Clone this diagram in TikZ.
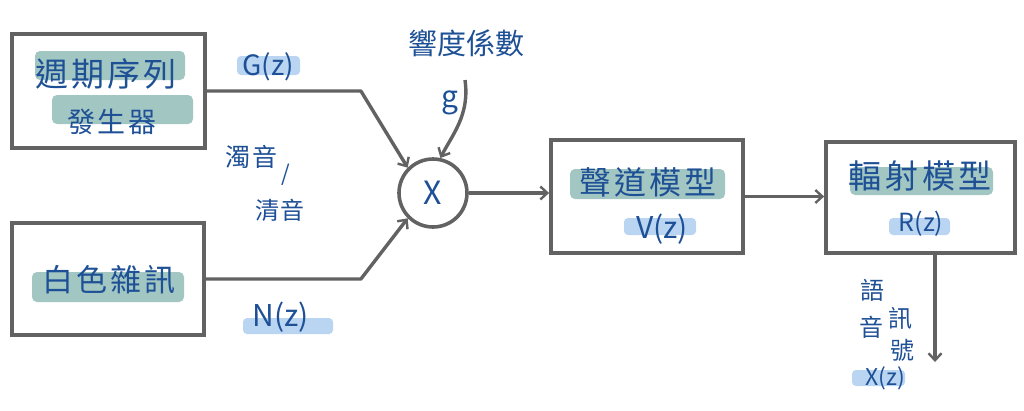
\documentclass[tikz,border=0pt]{standalone}
\usepackage{fontspec}
\setmainfont{Noto Sans CJK TC}
\usetikzlibrary{arrows.meta}
\definecolor{ink}{HTML}{1E5096}
\definecolor{hlteal}{HTML}{A2C6C2}
\definecolor{hlblue}{HTML}{B9D5F2}
\definecolor{pencil}{HTML}{626262}
\newcommand\fsz[1]{\fontsize{#1}{#1}\selectfont}
\begin{document}
\begin{tikzpicture}[x=1pt,y=-1pt,
  box/.style={draw=pencil,line width=3.8pt,fill=white,inner sep=0pt,rectangle},
  hlt/.style={fill=hlteal,rounded corners=5pt},
  hlb/.style={fill=hlblue,rounded corners=4pt},
  lbl/.style={text=ink,inner sep=0pt},
  conn/.style={draw=pencil,line width=3.4pt,line join=round,-{Straight Barb[length=7pt,width=13pt,line width=2.4pt]}}]
\useasboundingbox[fill=white] (0,0) rectangle (1024,410);
% boxes
\node[box,minimum width=193,minimum height=114] (gen) at (108.5,91) {};
\node[box,minimum width=192,minimum height=112] (noise) at (108,279) {};
\node[box,minimum width=192,minimum height=113] (tract) at (647,196.5) {};
\node[box,minimum width=189,minimum height=111] (rad) at (920.5,197.5) {};
\node[draw=pencil,line width=3.6pt,fill=white,circle,minimum size=68,inner sep=0pt] (mult) at (433,193) {};
% highlights
\fill[hlt] (35,51) rectangle (185,80);
\fill[hlt] (52,95) rectangle (193,124);
\fill[hlt] (32,272) rectangle (184,302);
\fill[hlt] (570,169) rectangle (725,199);
\fill[hlt] (850,167) rectangle (993,195);
\fill[hlb] (237,56) rectangle (300,75);
\fill[hlb] (243,318) rectangle (333,334);
\fill[hlb] (624,218) rectangle (696,235);
\fill[hlb] (889,218) rectangle (950,235);
\fill[hlb] (852,370) rectangle (905,386);
% texts
\node[lbl] (t1) at (106,74) {\fsz{33}週\hspace{3pt}期\hspace{3pt}序\hspace{3pt}列};
\node[lbl] (t2) at (112,122) {\fsz{28}發\hspace{3pt}生\hspace{3pt}器};
\node[lbl] (t3) at (109,280) {\fsz{31}白\hspace{3pt}色\hspace{3pt}雜\hspace{3pt}訊};
\node[lbl] (t4) at (648,182) {\fsz{32}聲\hspace{3pt}道\hspace{3pt}模\hspace{3pt}型};
\node[lbl] (t5) at (920,176) {\fsz{33}輻\hspace{4pt}射\hspace{4pt}模\hspace{4pt}型};
\node[lbl] (t6) at (466,43) {\fsz{29}響度係數};
\node[lbl] (gz) at (268,67) {\fsz{28}G(z)};
\node[lbl] (nz) at (281,317) {\fsz{30}N(z)};
\node[lbl] (vz) at (662,229) {\fsz{30}V(z)};
\node[lbl] (rz) at (921,224) {\fsz{25}R(z)};
\node[lbl] (xz) at (885,378) {\fsz{23}X(z)};
\node[lbl] (vo) at (251,157) {\fsz{25}濁\hspace{2pt}音};
\node[lbl] (sl) at (286,175) {\fsz{22}/};
\node[lbl] (uv) at (280,210) {\fsz{24}清\hspace{2pt}音};
\node[lbl] (gl) at (450,103) {\fsz{30}g};
\node[lbl] (xs) at (433,193) {\fsz{32}X};
\node[lbl] (c1) at (872,290) {\fsz{24}語};
\node[lbl] (c2) at (871,327) {\fsz{24}音};
\node[lbl] (c3) at (900,318) {\fsz{24}訊};
\node[lbl] (c4) at (902,350) {\fsz{24}號};
% connectors
\coordinate (gtail) at (465,80);
\coordinate (xend) at (935,362);
\draw[conn] (gen.east) -- ++(154,0) -- (mult.135);
\draw[conn] (noise.east) -- ++(155,0) -- (mult.225);
\draw[conn] (gtail) .. controls (470,115) and (452,135) .. (mult.78);
\draw[conn] (mult.east) -- (mult.east -| tract.west);
\draw[conn] (tract.east) -- (tract.east -| rad.west);
\draw[conn] (rad.south -| xend) -- (xend);
\end{tikzpicture}
\end{document}
